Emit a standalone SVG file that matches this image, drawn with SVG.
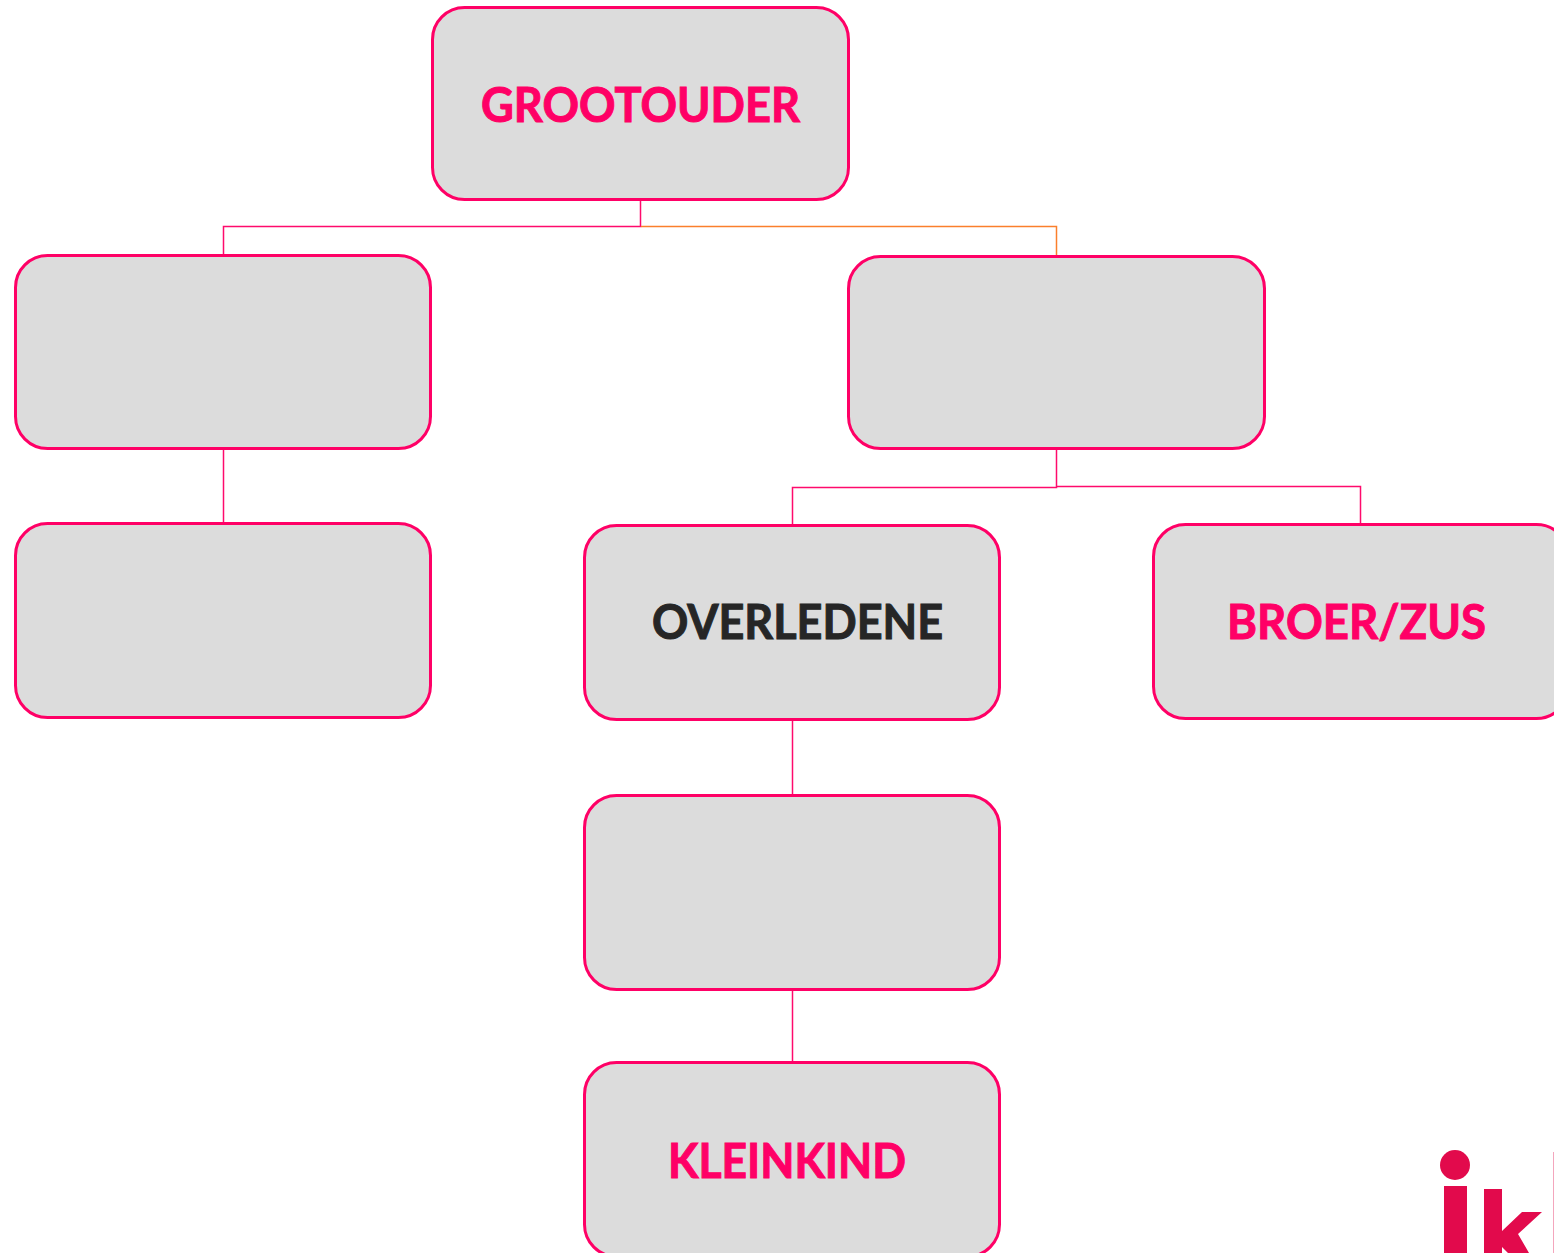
<svg xmlns="http://www.w3.org/2000/svg" width="1554" height="1253" viewBox="0 0 1554 1253">
<style>
.box{fill:#dcdcdc;stroke:#ff0066;stroke-width:3}
.c{fill:none;stroke:#ff0a6c;stroke-width:1.5}
.t{font-family:"Lato","Open Sans",sans-serif;font-weight:700;font-size:47px;fill:#ff0066;stroke:#ff0066;stroke-width:1}
.d{fill:#262626;stroke:#262626}
.logo{fill:#e20a4c}
</style>
<rect width="1554" height="1253" fill="#fff"/>
<g id="connectors">
<path class="c" d="M640.500 200V226.500H223.500V255"/>
<path class="c" style="stroke:#fb7f2c" d="M641 226.500H1056.500V256"/>
<path class="c" d="M223.500 449V523"/>
<path class="c" d="M1056.500 449V487.500H792.500V525"/>
<path class="c" d="M1057 486.500H1360.500V524"/>
<path class="c" d="M792.500 720V795"/>
<path class="c" d="M792.500 990V1062"/>
</g>
<g id="grootouder"><rect class="box" x="432.500" y="7.500" width="416" height="192" rx="32"/><text class="t" x="481" y="122" textLength="319" lengthAdjust="spacingAndGlyphs">GROOTOUDER</text></g>
<g id="ouder-links"><rect class="box" x="15.500" y="255.500" width="415" height="193" rx="32"/></g>
<g id="ouder-rechts"><rect class="box" x="848.500" y="256.500" width="416" height="192" rx="32"/></g>
<g id="kind-links"><rect class="box" x="15.500" y="523.500" width="415" height="194" rx="32"/></g>
<g id="overledene"><rect class="box" x="584.500" y="525.500" width="415" height="194" rx="32"/><text class="t d" x="652" y="639" textLength="291" lengthAdjust="spacingAndGlyphs">OVERLEDENE</text></g>
<g id="broer-zus"><rect class="box" x="1153.500" y="524.500" width="415" height="194" rx="32"/><text class="t" x="1227" y="639" textLength="259" lengthAdjust="spacingAndGlyphs">BROER/ZUS</text></g>
<g id="kind-midden"><rect class="box" x="584.500" y="795.500" width="415" height="194" rx="32"/></g>
<g id="kleinkind"><rect class="box" x="584.500" y="1062.500" width="415" height="194" rx="32"/><text class="t" x="668" y="1178" textLength="238" lengthAdjust="spacingAndGlyphs">KLEINKIND</text></g>
<g id="logo">
<circle class="logo" cx="1455" cy="1165" r="15"/>
<rect class="logo" x="1444" y="1186" width="23" height="67"/>
<path class="logo" d="M1484 1189H1502V1231L1522 1212H1542L1518 1234L1529 1253H1508L1502 1247V1253H1484Z"/>
<rect x="1553" y="1152" width="1" height="101" fill="#f4a6bd"/>
</g>
</svg>
